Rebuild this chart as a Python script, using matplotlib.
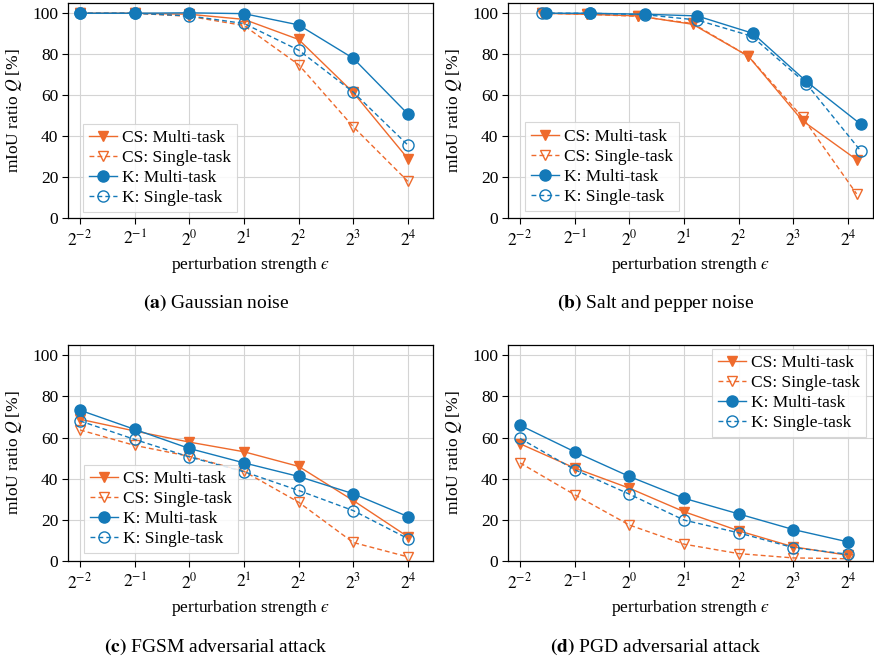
import numpy as np
import matplotlib
matplotlib.use("Agg")
import matplotlib.pyplot as plt
from matplotlib.ticker import FixedLocator, NullLocator

plt.rcParams['font.family'] = 'serif'
plt.rcParams['font.serif'] = ['Liberation Serif', 'DejaVu Serif']
plt.rcParams['mathtext.fontset'] = 'stix'

ORANGE = '#EE6A2C'
BLUE = '#1479B8'

# ---- data (x in log2 units of epsilon) ----
xt = [-2, -1, 0, 1, 2, 3, 4]
tick_labels = [r'$2^{-2}$', r'$2^{-1}$', r'$2^{0}$', r'$2^{1}$', r'$2^{2}$', r'$2^{3}$', r'$2^{4}$']

# (a) Gaussian noise
a_x = [-2, -1, 0, 1, 2, 3, 4]
a_cs_multi = [100, 100, 99.5, 97.0, 87.2, 61.3, 29.0]
a_cs_single = [100, 100, 98.5, 94.0, 74.9, 44.6, 17.9]
a_k_multi = [100, 100, 100.2, 99.8, 94.3, 78.0, 50.8]
a_k_single = [100, 100, 98.7, 95.0, 82.0, 61.5, 35.6]

# (b) Salt and pepper noise
b_x_cs = [-1.60, -0.78, 0.16, 1.16, 2.18, 3.17, 4.16]
b_x_k_multi = [-1.53, -0.72, 0.29, 1.24, 2.26, 3.24, 4.24]
b_x_k_single = [-1.60, -0.72, 0.29, 1.24, 2.24, 3.24, 4.24]
b_cs_multi = [100, 99.5, 98.7, 94.6, 79.0, 47.5, 28.5]
b_cs_single = [100, 99.5, 98.5, 95.0, 79.0, 49.2, 11.8]
b_k_multi = [100, 100, 99.5, 98.7, 90.2, 66.7, 45.7]
b_k_single = [100, 100, 99.3, 96.7, 88.8, 65.6, 32.6]

# (c) FGSM adversarial attack
c_x = [-2, -1, 0, 1, 2, 3, 4]
c_cs_multi = [68.9, 63.2, 57.8, 53.1, 46.0, 29.4, 11.8]
c_cs_single = [63.7, 56.2, 50.9, 43.6, 28.6, 9.0, 2.0]
c_k_multi = [73.3, 64.0, 54.7, 47.7, 41.1, 32.7, 21.6]
c_k_single = [68.1, 59.1, 50.6, 43.4, 34.3, 24.5, 10.9]

# (d) PGD adversarial attack
d_x = [-2, -1, 0, 1, 2, 3, 4]
d_cs_multi = [57.0, 45.2, 35.4, 24.0, 14.7, 6.9, 2.8]
d_cs_single = [47.7, 32.2, 17.5, 8.2, 3.6, 1.5, 1.1]
d_k_multi = [66.0, 53.1, 41.1, 30.5, 22.9, 15.3, 9.3]
d_k_single = [59.6, 44.4, 32.5, 19.9, 13.7, 6.5, 3.3]

labels = ['CS: Multi-task', 'CS: Single-task', 'K: Multi-task', 'K: Single-task']
captions = [('(a)', 'Gaussian noise'), ('(b)', 'Salt and pepper noise'),
            ('(c)', 'FGSM adversarial attack'), ('(d)', 'PGD adversarial attack')]

panels = [
    (a_x, a_x, a_x, a_x, a_cs_multi, a_cs_single, a_k_multi, a_k_single),
    (b_x_cs, b_x_cs, b_x_k_multi, b_x_k_single, b_cs_multi, b_cs_single, b_k_multi, b_k_single),
    (c_x, c_x, c_x, c_x, c_cs_multi, c_cs_single, c_k_multi, c_k_single),
    (d_x, d_x, d_x, d_x, d_cs_multi, d_cs_single, d_k_multi, d_k_single),
]
leg_locs = [('lower left', (0.041, 0.028)), ('lower left', (0.047, 0.034)),
            ('lower left', (0.044, 0.037)), ('upper right', (0.981, 0.981))]

W, H = 874, 659
fig = plt.figure(figsize=(W / 100, H / 100), dpi=100)

# axes boxes in pixels: left, top, right, bottom
boxes = [(68, 3, 433, 218), (508, 3, 873, 218), (68, 345, 433, 561), (508, 345, 873, 561)]
cap_pos = [(216, 303), (656, 303), (216, 647), (656, 647)]

FS = 12.5
LFS = 12.5
for i, (box, p) in enumerate(zip(boxes, panels)):
    l, t, r, b = box
    ax = fig.add_axes([l / W, 1 - b / H, (r - l) / W, (b - t) / H])
    xcm, xcs, xkm, xks, csm, css, km, ks = p
    X = lambda arr: np.power(2.0, np.asarray(arr, dtype=float))
    ax.plot(X(xcm), csm, '-', color=ORANGE, lw=1.0, marker='v', ms=7, mfc=ORANGE, mec=ORANGE, label=labels[0])
    ax.plot(X(xcs), css, '--', color=ORANGE, lw=1.0, marker='v', ms=7, mfc='none', mec=ORANGE, dashes=(3.5, 2.2), label=labels[1])
    ax.plot(X(xkm), km, '-', color=BLUE, lw=1.0, marker='o', ms=8, mfc=BLUE, mec=BLUE, label=labels[2])
    ax.plot(X(xks), ks, '--', color=BLUE, lw=1.0, marker='o', ms=8, mfc='none', mec=BLUE, mew=1.0, dashes=(3.5, 2.2), label=labels[3])

    ax.set_xscale('log', base=2)
    ax.set_xlim(2 ** -2.22, 2 ** 4.46)
    ax.set_ylim(0, 105)
    ax.xaxis.set_major_locator(FixedLocator([2.0 ** v for v in xt]))
    ax.xaxis.set_minor_locator(NullLocator())
    ax.set_xticklabels(tick_labels)
    ax.set_yticks([0, 20, 40, 60, 80, 100])
    ax.tick_params(axis='both', direction='out', length=4, width=0.8, labelsize=FS, pad=3)
    ax.tick_params(axis='x', pad=4.5)
    ax.grid(True, color='#d4d4d4', lw=0.8)
    ax.set_axisbelow(True)
    for s in ax.spines.values():
        s.set_linewidth(0.9)
        s.set_color('black')
    ax.set_xlabel('perturbation strength $\u03f5$', fontsize=FS, labelpad=4)
    ax.set_ylabel(r'mIoU ratio $Q$ [%]', fontsize=FS, labelpad=6)
    loc, anchor = leg_locs[i]
    leg = ax.legend(loc=loc, bbox_to_anchor=anchor, fontsize=LFS, frameon=True, fancybox=False,
                    framealpha=0.85, edgecolor='#d0d0d0', handlelength=1.6, borderpad=0.35,
                    labelspacing=0.22, handletextpad=0.3, borderaxespad=0.0)
    leg.get_frame().set_linewidth(0.8)

    cx, cy = cap_pos[i]
    fig.text(cx / W, 1 - cy / H, r'$\mathbf{' + captions[i][0] + r'}$ ' + captions[i][1],
             ha='center', va='center', fontsize=14)

fig.savefig('out.png', dpi=100)
